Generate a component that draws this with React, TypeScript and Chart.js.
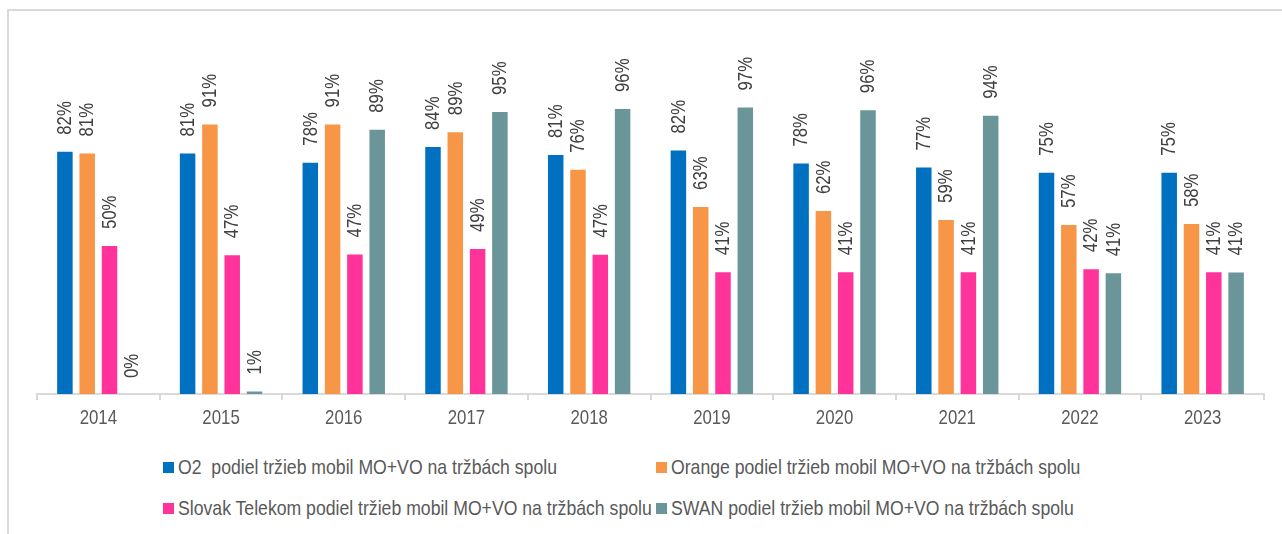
import React, { useEffect, useRef } from "react";
import { Chart, registerables } from "chart.js";

Chart.register(...registerables);

const years = ["2014", "2015", "2016", "2017", "2018", "2019", "2020", "2021", "2022", "2023"];
const seriesLabels = [
  "O2  podiel tržieb mobil MO+VO na tržbách spolu",
  "Orange podiel tržieb mobil MO+VO na tržbách spolu",
  "Slovak Telekom podiel tržieb mobil MO+VO na tržbách spolu",
  "SWAN podiel tržieb mobil MO+VO na tržbách spolu",
];
const o2Values = [82.0, 81.4, 78.3, 83.6, 80.9, 82.4, 78.0, 76.7, 74.9, 74.9];
const orangeValues = [81.4, 91.2, 91.2, 88.6, 75.9, 63.4, 62.0, 59.0, 57.3, 57.6];
const telekomValues = [50.2, 47.1, 47.4, 49.2, 47.3, 41.4, 41.4, 41.4, 42.4, 41.4];
const swanValues = [0, 1.2, 89.4, 95.4, 96.4, 96.9, 96.0, 94.1, 41.0, 41.3];
const colors = ["#0070C0", "#F79646", "#FF3399", "#6A9599"];

const FONT = "'Liberation Sans', Arial, sans-serif";
const SQUEEZE = 0.8;
const LEGEND_SQUEEZE = 0.84;

const textPlugin = {
  id: "squeezedText",
  afterDatasetsDraw(chart: any) {
    const ctx = chart.ctx;
    ctx.save();
    ctx.font = `21px ${FONT}`;
    ctx.fillStyle = "#404040";
    ctx.textAlign = "left";
    ctx.textBaseline = "middle";
    chart.data.datasets.forEach((ds: any, i: number) => {
      const meta = chart.getDatasetMeta(i);
      meta.data.forEach((bar: any, j: number) => {
        const v = ds.data[j];
        ctx.save();
        ctx.translate(bar.x + 0.5, bar.y - 16);
        ctx.rotate(-Math.PI / 2);
        ctx.scale(SQUEEZE, 1);
        ctx.fillText(`${Math.round(v)}%`, 0, 0);
        ctx.restore();
      });
    });
    // category labels
    const xs = chart.scales.x;
    ctx.fillStyle = "#595959";
    ctx.textAlign = "center";
    chart.data.labels.forEach((lab: string, i: number) => {
      const x = xs.getPixelForTick(i);
      ctx.save();
      ctx.translate(x, xs.top + 24);
      ctx.scale(SQUEEZE, 1);
      ctx.fillText(lab, 0, 0);
      ctx.restore();
    });
    ctx.restore();
  },
};

export default function App() {
  const canvasRef = useRef<HTMLCanvasElement>(null);

  useEffect(() => {
    const seriesValues = [o2Values, orangeValues, telekomValues, swanValues];
    const chart = new Chart(canvasRef.current!, {
      type: "bar",
      data: {
        labels: years,
        datasets: seriesLabels.map((label, i) => ({
          label,
          data: seriesValues[i],
          backgroundColor: colors[i],
          borderColor: "rgba(255,255,255,0.45)",
          borderWidth: 1,
          categoryPercentage: 0.727,
          barPercentage: 0.785,
        })),
      },
      options: {
        responsive: false,
        animation: false,
        layout: { padding: { top: 38, left: 37, right: 18, bottom: 6 } },
        plugins: {
          legend: { display: false },
          tooltip: { enabled: false },
        },
        scales: {
          x: {
            grid: {
              display: true,
              drawOnChartArea: false,
              drawTicks: true,
              tickLength: 6,
              color: "#d9d9d9",
              lineWidth: 2,
              offset: true,
            },
            border: { display: true, color: "#d9d9d9", width: 2 },
            ticks: {
              color: "rgba(0,0,0,0)",
              font: { family: FONT, size: 20 },
              padding: 5,
            },
          },
          y: {
            display: false,
            min: 0,
            max: 120,
          },
        },
      },
      plugins: [textPlugin],
    });
    return () => chart.destroy();
  }, []);

  const legendPos = [
    { left: 163, top: 467 },
    { left: 656, top: 467 },
    { left: 163, top: 508 },
    { left: 656, top: 508 },
  ];

  return (
    <div
      style={{
        position: "fixed",
        left: 0,
        top: 0,
        width: 1282,
        height: 534,
        overflow: "hidden",
        background: "#ffffff",
      }}
    >
      <div
        style={{
          position: "absolute",
          left: 7,
          top: 9,
          width: 1320,
          height: 600,
          border: "2px solid #d9d9d9",
          boxSizing: "border-box",
        }}
      />
      <canvas
        ref={canvasRef}
        width={1282}
        height={440}
        style={{ position: "absolute", left: 0, top: 0, width: 1282, height: 440 }}
      />
      {seriesLabels.map((label, i) => (
        <div
          key={label}
          style={{
            position: "absolute",
            left: legendPos[i].left,
            top: legendPos[i].top - 13,
            height: 26,
            display: "flex",
            alignItems: "center",
            whiteSpace: "pre",
            fontFamily: FONT,
            fontSize: 21,
            color: "#595959",
          }}
        >
          <span
            style={{
              display: "inline-block",
              width: 11,
              height: 11,
              background: colors[i],
              marginRight: 4,
              flex: "none",
            }}
          />
          <span
            style={{
              display: "inline-block",
              transform: `scaleX(${LEGEND_SQUEEZE})`,
              transformOrigin: "left center",
            }}
          >
            {label}
          </span>
        </div>
      ))}
    </div>
  );
}
